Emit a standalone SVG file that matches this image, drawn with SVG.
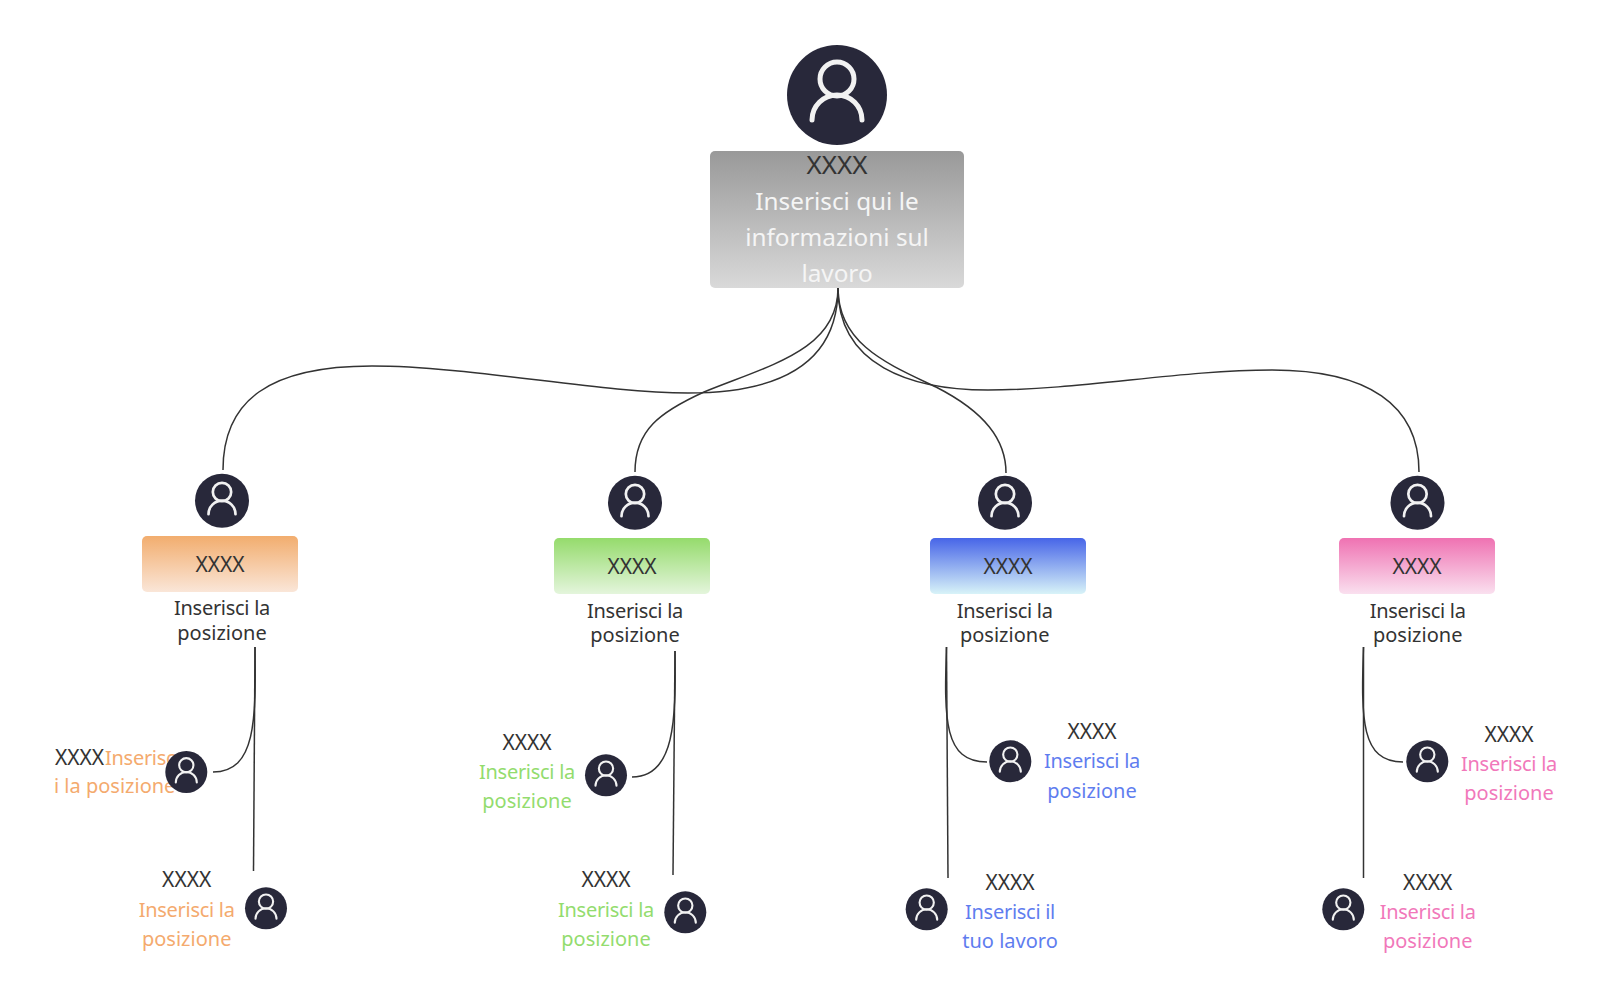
<svg xmlns="http://www.w3.org/2000/svg" width="1623" height="993" viewBox="0 0 1623 993">
<style>
text{font-family:"Noto Sans","Open Sans","Liberation Sans",sans-serif;text-anchor:middle;font-size:20px;fill:#333}
.x{font-size:21px}
.xl{font-size:26px}
.top{font-size:24.300px;fill:#f5f5f5}
.i{letter-spacing:-.28px}
.o{fill:#f4aa6e}.g{fill:#93dc6e}.b{fill:#5f7def}.p{fill:#f178ba}
.c{fill:none;stroke:#333;stroke-width:1.5}
.s{fill:none;stroke:#f2f2f2;stroke-width:5;stroke-linecap:round}
</style>
<defs>
<linearGradient id="gt" x1="0" y1="0" x2="0" y2="1"><stop offset="0" stop-color="#999"/><stop offset="1" stop-color="#d9d9d9"/></linearGradient>
<linearGradient id="go" x1="0" y1="0" x2="0" y2="1"><stop offset="0" stop-color="#f2ad6e"/><stop offset="1" stop-color="#fae6d8"/></linearGradient>
<linearGradient id="gg" x1="0" y1="0" x2="0" y2="1"><stop offset="0" stop-color="#95db6c"/><stop offset="1" stop-color="#e4f5dc"/></linearGradient>
<linearGradient id="gb" x1="0" y1="0" x2="0" y2="1"><stop offset="0" stop-color="#4765e8"/><stop offset="1" stop-color="#d8f3f8"/></linearGradient>
<linearGradient id="gp" x1="0" y1="0" x2="0" y2="1"><stop offset="0" stop-color="#ef72b2"/><stop offset="1" stop-color="#fae0ef"/></linearGradient>
<g id="u"><circle r="50" fill="#28283a"/><circle cy="-16" r="17" class="s"/><path d="M-25 25A25 25 0 0 1 25 25" class="s"/></g>
</defs>
<g id="connectors">
<path class="c" d="M838 288C838 370 770 393 688 393C600 393 470 366 372 366C270 366 223 400 223 470"/>
<path class="c" d="M838 288C838 350 770 365 704 392C660 412 635 430 635 472"/>
<path class="c" d="M838 288C838 345 890 365 936 387C985 412 1006 440 1006 473"/>
<path class="c" d="M838 288C838 365 910 390 988 390C1080 390 1180 370 1272 370C1368 370 1419 405 1419 472"/>
<path class="c" d="M255 647L253.500 871"/><path class="c" d="M255 647C256 720 256 772 213 772"/>
<path class="c" d="M675 651L673 875"/><path class="c" d="M675 651C676 720 675 777 632 777"/>
<path class="c" d="M946.500 647L948 878"/><path class="c" d="M946.500 647C944 720 944 762 987 762"/>
<path class="c" d="M1363.500 647V878"/><path class="c" d="M1363.500 647C1361 720 1361 762 1403 762"/>
</g>
<g id="root"><use href="#u" transform="translate(837 95)"/><rect x="710" y="151" width="254" height="137" rx="5" fill="url(#gt)"/>
<text x="837" y="174" class="xl">XXXX</text><text x="837" y="210" class="top">Inserisci qui le</text><text x="837" y="246" class="top">informazioni sul</text><text x="837" y="282" class="top">lavoro</text></g>

<g id="head-orange"><use href="#u" transform="translate(222 500.700) scale(.54)"/><rect x="142" y="536" width="156" height="56" rx="5" fill="url(#go)"/><text x="220" y="572" class="x">XXXX</text><text x="222" y="615" class="i">Inserisci la</text><text x="222" y="640">posizione</text></g>
<g id="orange-1"><text x="79.500" y="765" class="x">XXXX</text><text x="105" y="765" class="o i" style="text-anchor:start">Inserisc</text><text x="54" y="793" class="o" style="text-anchor:start">i la posizione</text><use href="#u" transform="translate(186.300 772) scale(.42)"/></g>
<g id="orange-2"><use href="#u" transform="translate(266 908.300) scale(.42)"/><text x="186.700" y="887" class="x">XXXX</text><text x="186.700" y="917" class="o i">Inserisci la</text><text x="186.700" y="946" class="o">posizione</text></g>

<g id="head-green"><use href="#u" transform="translate(635 502.700) scale(.54)"/><rect x="554" y="538" width="156" height="56" rx="5" fill="url(#gg)"/><text x="632" y="574" class="x">XXXX</text><text x="635" y="618" class="i">Inserisci la</text><text x="635" y="642">posizione</text></g>
<g id="green-1"><use href="#u" transform="translate(606 775.300) scale(.42)"/><text x="527" y="750" class="x">XXXX</text><text x="527" y="779" class="g i">Inserisci la</text><text x="527" y="808" class="g">posizione</text></g>
<g id="green-2"><use href="#u" transform="translate(685.300 912.300) scale(.42)"/><text x="606" y="887" class="x">XXXX</text><text x="606" y="917" class="g i">Inserisci la</text><text x="606" y="946" class="g">posizione</text></g>

<g id="head-blue"><use href="#u" transform="translate(1005 502.700) scale(.54)"/><rect x="930" y="538" width="156" height="56" rx="5" fill="url(#gb)"/><text x="1008" y="574" class="x">XXXX</text><text x="1004.700" y="618" class="i">Inserisci la</text><text x="1004.700" y="642">posizione</text></g>
<g id="blue-1"><use href="#u" transform="translate(1010.300 761.300) scale(.42)"/><text x="1092" y="739" class="x">XXXX</text><text x="1092" y="768" class="b i">Inserisci la</text><text x="1092" y="798" class="b">posizione</text></g>
<g id="blue-2"><use href="#u" transform="translate(926.700 909.300) scale(.42)"/><text x="1010" y="890" class="x">XXXX</text><text x="1010" y="919" class="b i">Inserisci il</text><text x="1010" y="948" class="b">tuo lavoro</text></g>

<g id="head-pink"><use href="#u" transform="translate(1417.500 502.700) scale(.54)"/><rect x="1339" y="538" width="156" height="56" rx="5" fill="url(#gp)"/><text x="1417" y="574" class="x">XXXX</text><text x="1417.700" y="618" class="i">Inserisci la</text><text x="1417.700" y="642">posizione</text></g>
<g id="pink-1"><use href="#u" transform="translate(1427.300 761.300) scale(.42)"/><text x="1509" y="742" class="x">XXXX</text><text x="1509" y="771" class="p i">Inserisci la</text><text x="1509" y="800" class="p">posizione</text></g>
<g id="pink-2"><use href="#u" transform="translate(1343.300 909.300) scale(.42)"/><text x="1427.700" y="890" class="x">XXXX</text><text x="1427.700" y="919" class="p i">Inserisci la</text><text x="1427.700" y="948" class="p">posizione</text></g>
</svg>
